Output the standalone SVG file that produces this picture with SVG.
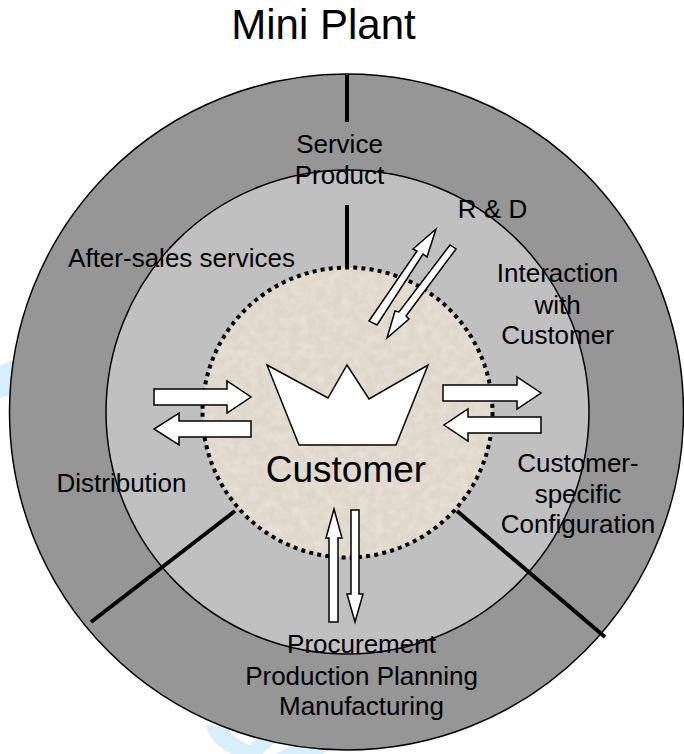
<svg xmlns="http://www.w3.org/2000/svg" width="684" height="754" viewBox="0 0 684 754">
<style>
text{font-family:"Liberation Sans",Arial,sans-serif;fill:#000;text-anchor:middle;font-size:26px}
.ring{stroke:#000;stroke-width:1.5}
.arrow{fill:#fff;stroke:#000;stroke-width:1.5;stroke-linejoin:miter}
.tick{stroke:#000;stroke-width:4;fill:none}
</style>
<defs>
<filter id="grain" x="0" y="0" width="100%" height="100%">
<feTurbulence type="fractalNoise" baseFrequency="0.12" numOctaves="2" seed="4" result="n"/>
<feColorMatrix in="n" type="matrix" values="0 0 0 0 1  0 0 0 0 0.97  0 0 0 0 0.93  0.5 0 0 0 -0.17" result="g"/>
<feComposite in="g" in2="SourceGraphic" operator="in" result="c"/>
<feMerge><feMergeNode in="SourceGraphic"/><feMergeNode in="c"/></feMerge>
</filter>
</defs>
<rect width="684" height="754" fill="#fff"/>
<g id="watermark" fill="#d6effb">
<polygon points="0,366 12,360 12,394 0,398"/>
<path d="M206,724 C208,738 218,748 232,754 L262,754 L276,742 L262,734 L250,745 C240,742 232,735 228,729 Z"/>
<polygon points="276,754 302,740 330,750 322,754"/>
</g>
<g id="outer-ring"><ellipse class="ring" cx="346.5" cy="412" rx="337" ry="338" fill="#969696"/></g>
<g id="middle-ring"><ellipse class="ring" cx="347.5" cy="412" rx="241.5" ry="242" fill="#c0c0c0"/></g>
<g id="customer-core">
<circle cx="347.5" cy="412.5" r="145" fill="#e0d7ca" filter="url(#grain)"/>
<circle cx="347.5" cy="412.5" r="145" fill="none" stroke="#000" stroke-width="4" stroke-dasharray="4 4.2"/>
</g>
<g id="connectors">
<line class="tick" x1="347" y1="75" x2="347" y2="122"/>
<line class="tick" x1="347" y1="205" x2="347" y2="267"/>
<line class="tick" x1="91" y1="622" x2="235" y2="511"/>
<line class="tick" x1="457" y1="511" x2="605" y2="637"/>
<polygon class="arrow" points="369,321 417,251 413,249 436,229 427,257 423,254 377,325"/>
<polygon class="arrow" points="456,249 406,316 409,319 387,338 395,311 399,312 450,245"/>
<polygon class="arrow" points="443,385 517,385 517,377 541,393 517,409 517,401 443,401"/>
<polygon class="arrow" points="541,417 468,417 468,409 444,425 468,441 468,433 541,433"/>
<polygon class="arrow" points="154,389 227,389 227,381 251,397 227,413 227,405 154,405"/>
<polygon class="arrow" points="251,421 179,421 179,413 154,429 179,445 179,437 251,437"/>
<polygon class="arrow" points="329,622 329,538 326,538 334,509 342,538 338,538 338,622"/>
<polygon class="arrow" points="351,510 351,594 347,594 355,622 363,594 359,594 359,510"/>
</g>
<g id="crown"><polygon class="arrow" points="267,365 328,398 347,365 369,399 428,365 396,445 299,445"/></g>
<g id="title"><text x="323.5" y="39" style="font-size:42px">Mini Plant</text></g>
<g id="label-service"><text x="339.5" y="153">Service</text><text x="339.5" y="184">Product</text></g>
<g id="label-rd"><text x="492.5" y="218">R &amp; D</text></g>
<g id="label-after-sales"><text x="181.5" y="267">After-sales services</text></g>
<g id="label-interaction"><text x="557.5" y="282">Interaction</text><text x="557.5" y="314">with</text><text x="557.5" y="344">Customer</text></g>
<g id="label-distribution"><text x="121.5" y="492">Distribution</text></g>
<g id="label-customer"><text x="346" y="482" style="font-size:37px">Customer</text></g>
<g id="label-configuration"><text x="578" y="472">Customer-</text><text x="578" y="503">specific</text><text x="578" y="533">Configuration</text></g>
<g id="label-procurement"><text x="361.5" y="653">Procurement</text><text x="361.5" y="685">Production Planning</text><text x="361.5" y="715">Manufacturing</text></g>
</svg>
